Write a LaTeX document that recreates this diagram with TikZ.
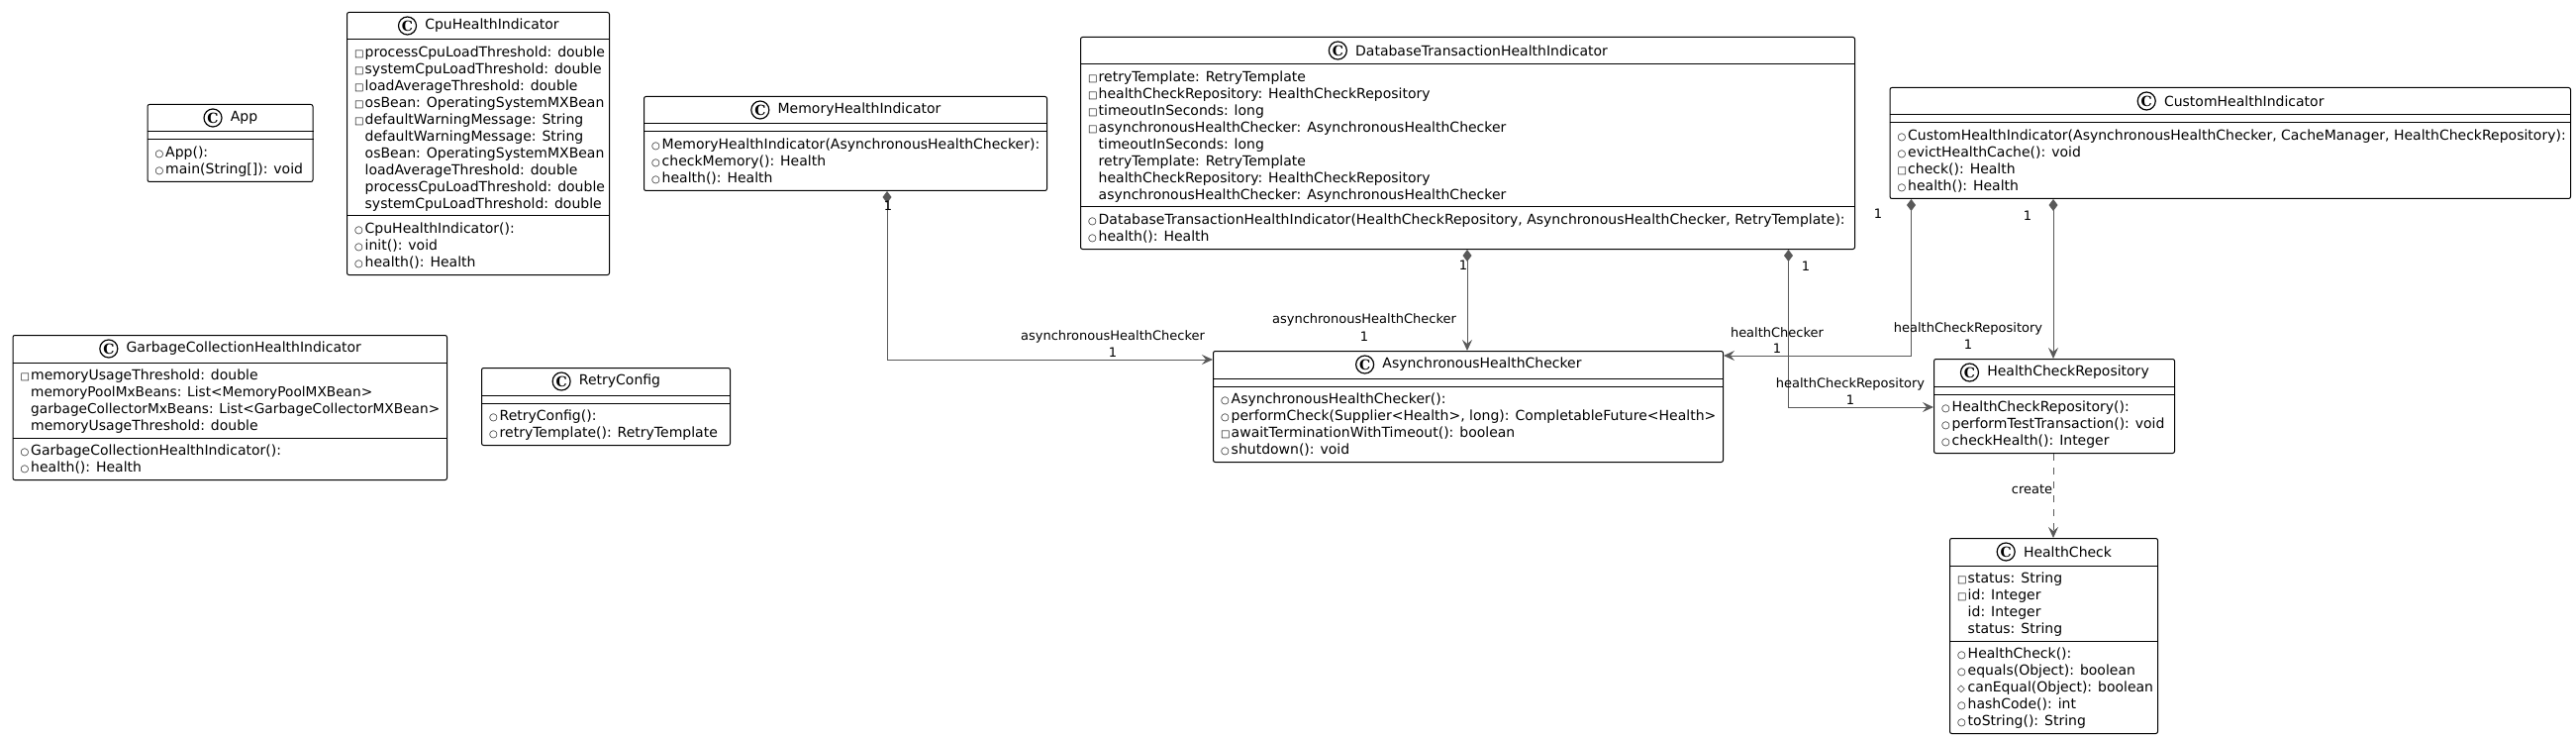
\documentclass[tikz,border=0pt]{standalone}
\usepackage{fontspec}
\setmainfont{DejaVu Sans}
\newfontfamily\ctagfont{DejaVu Serif}
\usetikzlibrary{arrows.meta,positioning}

\definecolor{linkgray}{HTML}{595959}
\tikzset{
  classframe/.style={draw=black, fill=white, line width=1pt, rounded corners=2pt, anchor=north west, inner sep=0pt},
  classtitle/.style={inner sep=0pt, font=\fontsize{14}{17}\selectfont},
  ctag/.style={draw=black, circle, line width=1.2pt, inner sep=0pt, minimum size=18pt, font=\ctagfont\fontsize{14}{14}\bfseries\selectfont},
  members/.style={anchor=north west, inner sep=0pt, align=left, font=\fontsize{14}{17}\selectfont},
  rolelabel/.style={inner sep=0pt, text=black, font=\fontsize{13}{15}\selectfont},
  link/.style={draw=linkgray, line width=1pt},
  comp/.style={link, {Diamond[length=12pt,width=9pt]}-{Stealth[length=11pt,width=10pt,inset=4pt]}},
  dep/.style={link, dash pattern=on 7pt off 7pt, -{Stealth[length=11pt,width=10pt,inset=4pt]}}
}
\newcommand{\vis}[2]{\makebox[10.5pt][l]{\fontsize{10}{10}\selectfont #1}\strut #2}
\newcommand{\pubm}[1]{\vis{○}{#1}}
\newcommand{\prim}[1]{\vis{□}{#1}}
\newcommand{\prom}[1]{\vis{◇}{#1}}
\newcommand{\nonem}[1]{\vis{}{#1}}
% name, left, top, width, no. of fields, no. of methods, title, fields, methods
\newcommand{\classbox}[9]{
  \pgfmathsetmacro{\sepy}{36+17*#5}
  \pgfmathsetmacro{\boxh}{\sepy+8+17*#6}
  \node[classframe, minimum width=#4pt, minimum height=\boxh pt] (#1) at (#2,#3) {};
  \node[classtitle] (#1title) at ([xshift=14pt,yshift=-14pt]#1.north) {#7};
  \node[ctag, left=8pt of #1title] (#1tag) {C};
  \draw[line width=1pt] ([yshift=-28pt]#1.north west) -- ([yshift=-28pt]#1.north east);
  \draw[line width=1pt] ([yshift=-\sepy pt]#1.north west) -- ([yshift=-\sepy pt]#1.north east);
  \node[members] (#1fields) at ([xshift=8pt,yshift=-33pt]#1.north west) {#8};
  \node[members] (#1methods) at ([xshift=8pt,yshift=-\sepy pt-5pt]#1.north west) {#9};
}

\begin{document}
\begin{tikzpicture}[x=1pt,y=-1pt]
  \useasboundingbox (0,0) rectangle (2602,746);

  \classbox{app}{148.5}{105}{167}{0}{2}{App}{}{%
    \pubm{App():}\\ \pubm{main(String[]): void}}
  \classbox{cpu}{350}{12}{265}{10}{3}{CpuHealthIndicator}{%
    \prim{processCpuLoadThreshold: double}\\ \prim{systemCpuLoadThreshold: double}\\
    \prim{loadAverageThreshold: double}\\ \prim{osBean: OperatingSystemMXBean}\\
    \prim{defaultWarningMessage: String}\\ \nonem{defaultWarningMessage: String}\\
    \nonem{osBean: OperatingSystemMXBean}\\ \nonem{loadAverageThreshold: double}\\
    \nonem{processCpuLoadThreshold: double}\\ \nonem{systemCpuLoadThreshold: double}}{%
    \pubm{CpuHealthIndicator():}\\ \pubm{init(): void}\\ \pubm{health(): Health}}
  \classbox{garbage}{12.5}{338}{438.5}{4}{2}{GarbageCollectionHealthIndicator}{%
    \prim{memoryUsageThreshold: double}\\ \nonem{{\fontsize{13.7}{17}\selectfont memoryPoolMxBeans: List<MemoryPoolMXBean>}}\\
    \nonem{{\fontsize{13.7}{17}\selectfont garbageCollectorMxBeans: List<GarbageCollectorMXBean>}}\\ \nonem{memoryUsageThreshold: double}}{%
    \pubm{GarbageCollectionHealthIndicator():}\\ \pubm{health(): Health}}
  \classbox{retry}{486}{371}{251}{0}{2}{RetryConfig}{}{%
    \pubm{RetryConfig():}\\ \pubm{retryTemplate(): RetryTemplate}}
  \classbox{memory}{650}{97}{407}{0}{3}{MemoryHealthIndicator}{}{%
    \pubm{MemoryHealthIndicator(AsynchronousHealthChecker):}\\ \pubm{checkMemory(): Health}\\ \pubm{health(): Health}}
  \classbox{database}{1091}{37}{782}{8}{2}{DatabaseTransactionHealthIndicator}{%
    \prim{retryTemplate: RetryTemplate}\\ \prim{healthCheckRepository: HealthCheckRepository}\\
    \prim{timeoutInSeconds: long}\\ \prim{asynchronousHealthChecker: AsynchronousHealthChecker}\\
    \nonem{timeoutInSeconds: long}\\ \nonem{retryTemplate: RetryTemplate}\\
    \nonem{healthCheckRepository: HealthCheckRepository}\\ \nonem{asynchronousHealthChecker: AsynchronousHealthChecker}}{%
    \pubm{DatabaseTransactionHealthIndicator(HealthCheckRepository, AsynchronousHealthChecker, RetryTemplate):}\\
    \pubm{health(): Health}}
  \classbox{custom}{1908.5}{88}{687.5}{0}{4}{CustomHealthIndicator}{}{%
    \pubm{CustomHealthIndicator(AsynchronousHealthChecker, CacheManager, HealthCheckRepository):}\\
    \pubm{evictHealthCache(): void}\\ \prim{check(): Health}\\ \pubm{health(): Health}}
  \classbox{async}{1225}{354}{515}{0}{4}{AsynchronousHealthChecker}{}{%
    \pubm{AsynchronousHealthChecker():}\\ \pubm{performCheck(Supplier<Health>, long): CompletableFuture<Health>}\\
    \prim{awaitTerminationWithTimeout(): boolean}\\ \pubm{shutdown(): void}}
  \classbox{repo}{1953}{362}{243}{0}{3}{HealthCheckRepository}{}{%
    \pubm{HealthCheckRepository():}\\ \pubm{performTestTransaction(): void}\\ \pubm{checkHealth(): Integer}}
  \classbox{check}{1969}{543}{210}{4}{5}{HealthCheck}{%
    \prim{status: String}\\ \prim{id: Integer}\\ \nonem{id: Integer}\\ \nonem{status: String}}{%
    \pubm{HealthCheck():}\\ \pubm{equals(Object): boolean}\\ \prom{canEqual(Object): boolean}\\
    \pubm{hashCode(): int}\\ \pubm{toString(): String}}

  % connectors
  \draw[comp] ([xshift=246pt]memory.south west) |- ([yshift=-9pt]async.north west);
  \draw[comp] ([xshift=391pt]database.south west) -- ([xshift=257pt]async.north west);
  \draw[comp] ([xshift=715.5pt]database.south west) |- ([yshift=-49pt]repo.north west);
  \draw[comp] ([xshift=22pt]custom.south west) |- ([yshift=-5pt]async.north east);
  \draw[comp] ([xshift=165.5pt]custom.south west) -- ([xshift=121pt]repo.north west);
  \draw[dep] ([xshift=121pt]repo.south west) -- ([xshift=105pt]check.north west);

  % labels
  \node[rolelabel] (memrole) at (1124,340) {asynchronousHealthChecker};
  \node[rolelabel] (memone) at (1124,356) {1};
  \node[rolelabel] (memown) at (897,208) {1};
  \node[rolelabel] (dbrole) at (1378,323) {asynchronousHealthChecker};
  \node[rolelabel] (dbone) at (1378,340) {1};
  \node[rolelabel] (dbown) at (1478,268) {1};
  \node[rolelabel] (dbrepo) at (1869,388) {healthCheckRepository};
  \node[rolelabel] (dbrepoone) at (1869,404) {1};
  \node[rolelabel] (dbrepoown) at (1824,269) {1};
  \node[rolelabel] (cusrole) at (1795,336) {healthChecker};
  \node[rolelabel] (cusone) at (1795,352) {1};
  \node[rolelabel] (cusown) at (1897,216) {1};
  \node[rolelabel] (cusrepo) at (1988,332) {healthCheckRepository};
  \node[rolelabel] (cusrepoone) at (1988,348) {1};
  \node[rolelabel] (cusrepoown) at (2048,218) {1};
  \node[rolelabel] (createlabel) at (2052.5,494) {create};
\end{tikzpicture}
\end{document}
